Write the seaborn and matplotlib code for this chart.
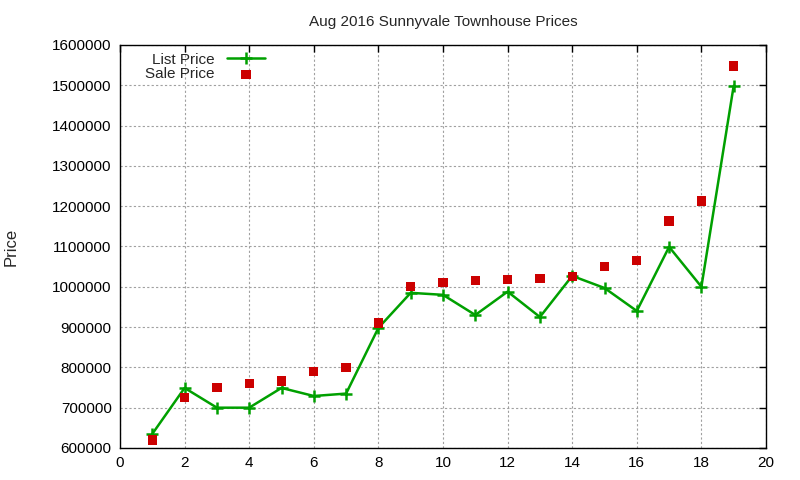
import matplotlib
matplotlib.use("Agg")
import matplotlib.pyplot as plt
import seaborn as sns
import pandas as pd

x_vals = list(range(1, 20))
list_price = [635000, 749000, 700000, 700000, 749000, 729000, 735000, 898000, 985000, 980000,
              930000, 988000, 925000, 1027000, 997000, 940000, 1099000, 1000000, 1499000]
sale_price = [620000, 725000, 750000, 760000, 766000, 790000, 800000, 910000, 1000000, 1010000,
              1015000, 1018000, 1020000, 1025000, 1050000, 1065000, 1163000, 1213000, 1548000]
x_ticks = list(range(0, 21, 2))
y_ticks = list(range(600000, 1600001, 100000))

sns.set_style("white")
plt.rcParams['font.family'] = ['Liberation Sans', 'DejaVu Sans']

df = pd.DataFrame({"x": x_vals, "list": list_price, "sale": sale_price})

fig = plt.figure(figsize=(8, 4.8), dpi=100)
ax = fig.add_axes([0.15, 0.0667, 0.8075, 0.8396])

sns.lineplot(data=df, x="x", y="list", ax=ax, color="#00a000", linewidth=1.8,
             marker="+", markersize=9, markeredgewidth=1.8, markeredgecolor="#00a000",
             label="List Price")
sns.scatterplot(data=df, x="x", y="sale", ax=ax, color="#cc0000", marker="s", s=45,
                edgecolor="none", label="Sale Price", zorder=3)

ax.set_xlim(0, 20)
ax.set_ylim(600000, 1600000)
ax.set_xticks(x_ticks)
ax.set_yticks(y_ticks)
ax.set_xticklabels([str(t) for t in x_ticks])
ax.set_yticklabels([str(t) for t in y_ticks])
ax.tick_params(direction="in", length=5, width=1, top=True, right=True, labelsize=11,
               colors="black", pad=6)
ax.grid(True, color="#a0a0a0", linestyle=(0, (2, 2)), linewidth=0.8)
for s in ax.spines.values():
    s.set_color("black")
    s.set_linewidth(1)
ax.set_xlabel("")
ax.set_ylabel("Price", fontsize=12, labelpad=24)
ax.set_title("Aug 2016 Sunnyvale Townhouse Prices", fontsize=11, pad=14)

leg = ax.legend(loc="upper left", frameon=False, markerfirst=False, fontsize=11,
                borderaxespad=0.1, handlelength=2.5, labelspacing=0.05,
                bbox_to_anchor=(0.027, 1.0))
for t in leg.get_texts():
    t.set_ha("right")

fig.savefig("out.png", dpi=100)
